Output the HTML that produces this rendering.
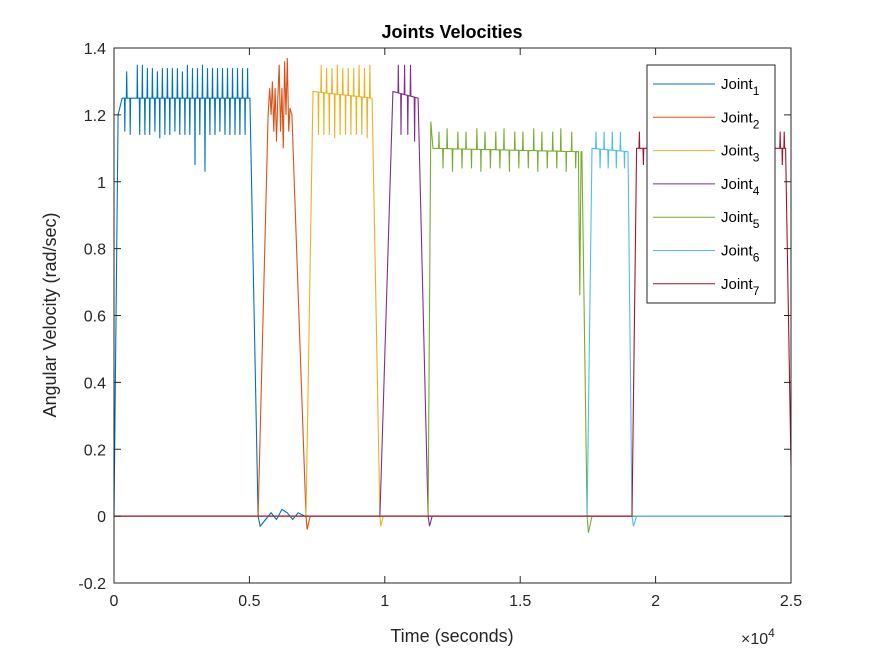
<!DOCTYPE html>
<html><head><meta charset="utf-8"><style>
body{margin:0;background:#fff}
svg text{font-family:"Liberation Sans",Arial,sans-serif;fill:#262626}
</style></head><body>
<svg id="chart" width="875" height="656" xmlns="http://www.w3.org/2000/svg">
<rect width="875" height="656" fill="#fff"/>
<rect x="114" y="48" width="677" height="535" fill="#fff"/>
<g id="series"></g>
<g id="axes"></g>
<text x="452" y="38" text-anchor="middle" font-size="18" font-weight="bold" style="fill:#000">Joints Velocities</text>
<text x="452" y="642" text-anchor="middle" font-size="18">Time (seconds)</text>
<text transform="translate(56,315) rotate(-90)" text-anchor="middle" font-size="18">Angular Velocity (rad/sec)</text>
<text x="741" y="644" font-size="16">×10<tspan dy="-7" font-size="12">4</tspan></text>
<g id="legend"></g>
</svg>
<script>
const xTicks=[0,5000,10000,15000,20000,25000];
const xTickLabels=["0","0.5","1","1.5","2","2.5"];
const yTicks=[-0.2,0,0.2,0.4,0.6,0.8,1,1.2,1.4];
const yTickLabels=["-0.2","0","0.2","0.4","0.6","0.8","1","1.2","1.4"];
const names=["Joint","Joint","Joint","Joint","Joint","Joint","Joint"];
const colors=["#0072BD","#D95319","#EDB120","#7E2F8E","#77AC30","#4DBEEE","#A2142F"];
// key shapes
const j1T=[0,150,300,5020,5320,5400,5600,5800,6000,6200,6400,6600,6800,7050,25000];
const j1V=[0,1.2,1.25,1.25,0,-0.03,-0.01,0.01,-0.01,0.02,0.01,-0.01,0.01,0,0];
const j2T=[0,5320,5690,5750,5800,5850,5900,5950,6000,6050,6100,6150,6200,6250,6300,6350,6400,6450,6500,6570,7090,7130,7250,25000];
const j2V=[0,0,1.2,1.28,1.2,1.3,1.15,1.28,1.12,1.25,1.35,1.15,1.28,1.1,1.36,1.2,1.37,1.15,1.22,1.2,0,-0.04,0,0];
const j3T=[0,7090,7350,9530,9820,9850,9950,25000];
const j3V=[0,0,1.27,1.25,0,-0.03,0,0];
const j4T=[0,9820,10300,11230,11600,11650,11750,25000];
const j4V=[0,0,1.27,1.25,0,-0.03,0,0];
const j5T=[0,11600,11700,11780,17150,17200,17250,17280,17470,17520,17650,25000];
const j5V=[0,0,1.18,1.1,1.09,0.66,1.09,1.09,0,-0.05,0,0];
const j6T=[0,17470,17650,18980,19130,19180,19300,25000];
const j6V=[0,0,1.1,1.09,0,-0.03,0,0];
const j7T=[0,19130,19300,24800,25000];
const j7V=[0,0,1.1,1.1,0.15];
// spikes
const j1UpT=[470,862,1047,1232,1417,1602,1787,1972,2157,2342,2527,2712,2897,3082,3267,3452,3637,3822,4007,4192,4377,4562,4747,4932];
const j1UpV=[1.33,1.35,1.35,1.34,1.34,1.33,1.34,1.34,1.34,1.34,1.33,1.35,1.34,1.34,1.35,1.34,1.34,1.34,1.34,1.34,1.34,1.34,1.34,1.34];
const j1DnT=[400,600,950,1140,1320,1510,1690,1880,2060,2250,2430,2620,2800,2990,3170,3360,3540,3730,3910,4100,4280,4470,4650,4840];
const j1DnV=[1.15,1.14,1.14,1.14,1.14,1.15,1.13,1.14,1.14,1.15,1.14,1.14,1.14,1.05,1.14,1.03,1.14,1.14,1.15,1.14,1.14,1.14,1.14,1.14];
const j3UpT=[7650,7850,8050,8250,8450,8650,8850,9050,9250,9450];
const j3UpV=[1.35,1.34,1.34,1.35,1.34,1.34,1.34,1.35,1.34,1.35];
const j3DnT=[7550,7750,7950,8150,8350,8550,8750,8950,9150,9350];
const j3DnV=[1.14,1.14,1.14,1.13,1.14,1.14,1.14,1.14,1.14,1.13];
const j4UpT=[10500,10730,10950];
const j4UpV=[1.35,1.35,1.35];
const j4DnT=[10600,10850,11100];
const j4DnV=[1.14,1.14,1.12];
const j5UpT=[12000,12300,12700,13000,13400,13700,14100,14400,14800,15100,15500,15800,16200,16500,16900];
const j5UpV=[1.15,1.16,1.15,1.15,1.16,1.15,1.15,1.16,1.15,1.15,1.16,1.15,1.15,1.16,1.15];
const j5DnT=[12150,12500,12850,13200,13550,13900,14250,14600,14950,15300,15650,16000,16350,16700,17050];
const j5DnV=[1.04,1.03,1.04,1.04,1.03,1.04,1.04,1.03,1.04,1.04,1.03,1.04,1.04,1.03,1.04];
const j6UpT=[17800,18100,18400,18700];
const j6UpV=[1.15,1.15,1.15,1.15];
const j6DnT=[17950,18250,18550,18850];
const j6DnV=[1.04,1.04,1.04,1.04];
const j7UpT=[19400,19700,24600,24750];
const j7UpV=[1.15,1.13,1.15,1.15];
const j7DnT=[19550,19850,24680];
const j7DnV=[1.05,1.07,1.05];

const X0=114,X1=791,Y0=583,Y1=48;
const xs=t=>X0+(t-0)/(25000)*(X1-X0);
const ys=v=>Y0-(v+0.2)/1.6*(Y0-Y1);
const NS="http://www.w3.org/2000/svg";
function mk(tag,attrs,parent){const e=document.createElementNS(NS,tag);for(const k in attrs)e.setAttribute(k,attrs[k]);parent.appendChild(e);return e;}

function build(kT,kV,sets){
  let pts=kT.map((t,i)=>[t,kV[i]]);
  const base=t=>{for(let i=0;i<kT.length-1;i++){if(t>=kT[i]&&t<=kT[i+1]){const f=(t-kT[i])/(kT[i+1]-kT[i]||1);return kV[i]+f*(kV[i+1]-kV[i]);}}return 0;};
  sets.forEach(([T,V])=>T.forEach((t,i)=>{pts.push([t-14,base(t-14)],[t,V[i]],[t+14,base(t+14)]);}));
  pts.sort((a,b)=>a[0]-b[0]);
  return pts;
}
const series=[
 build(j1T,j1V,[[j1UpT,j1UpV],[j1DnT,j1DnV]]),
 build(j2T,j2V,[]),
 build(j3T,j3V,[[j3UpT,j3UpV],[j3DnT,j3DnV]]),
 build(j4T,j4V,[[j4UpT,j4UpV],[j4DnT,j4DnV]]),
 build(j5T,j5V,[[j5UpT,j5UpV],[j5DnT,j5DnV]]),
 build(j6T,j6V,[[j6UpT,j6UpV],[j6DnT,j6DnV]]),
 build(j7T,j7V,[[j7UpT,j7UpV],[j7DnT,j7DnV]])
];
const sg=document.getElementById('series');
series.forEach((pts,i)=>{
  const p=mk('polyline',{points:pts.map(q=>xs(q[0]).toFixed(1)+','+ys(q[1]).toFixed(1)).join(' '),fill:'none',stroke:colors[i],'stroke-width':1.1},sg);
  
  
});
const ax=document.getElementById('axes');
const box=mk('rect',{x:X0,y:Y1,width:X1-X0,height:Y0-Y1,fill:'none',stroke:'#262626','stroke-width':1},ax);


xTicks.forEach((t,i)=>{
  const x=xs(t);
  mk('line',{x1:x,y1:Y0,x2:x,y2:Y0-7,stroke:'#262626'},ax);
  mk('line',{x1:x,y1:Y1,x2:x,y2:Y1+7,stroke:'#262626'},ax);
  const tx=mk('text',{x:x,y:Y0+23,'text-anchor':'middle','font-size':16},ax);
  tx.textContent=xTickLabels[i];
  
  
});
yTicks.forEach((v,i)=>{
  const y=ys(v);
  mk('line',{x1:X0,y1:y,x2:X0+7,y2:y,stroke:'#262626'},ax);
  mk('line',{x1:X1,y1:y,x2:X1-7,y2:y,stroke:'#262626'},ax);
  const tx=mk('text',{x:X0-8,y:y+6,'text-anchor':'end','font-size':16},ax);
  tx.textContent=yTickLabels[i];
  
  
});
const lg=document.getElementById('legend');
const lb=mk('rect',{x:647,y:65,width:128,height:238,fill:'#fff',stroke:'#262626','stroke-width':1},lg);


names.forEach((n,i)=>{
  const y=84+i*33.3;
  const g=mk('g',{},lg);
  
  
  mk('line',{x1:653,y1:y,x2:715,y2:y,stroke:colors[i],'stroke-width':1},g);
  const t=mk('text',{x:721,y:y+5,'font-size':15},g);
  t.style.fill='#000';
  t.innerHTML=n+'<tspan dy="6" font-size="12">'+(i+1)+'</tspan>';
});
</script>
</body></html>
